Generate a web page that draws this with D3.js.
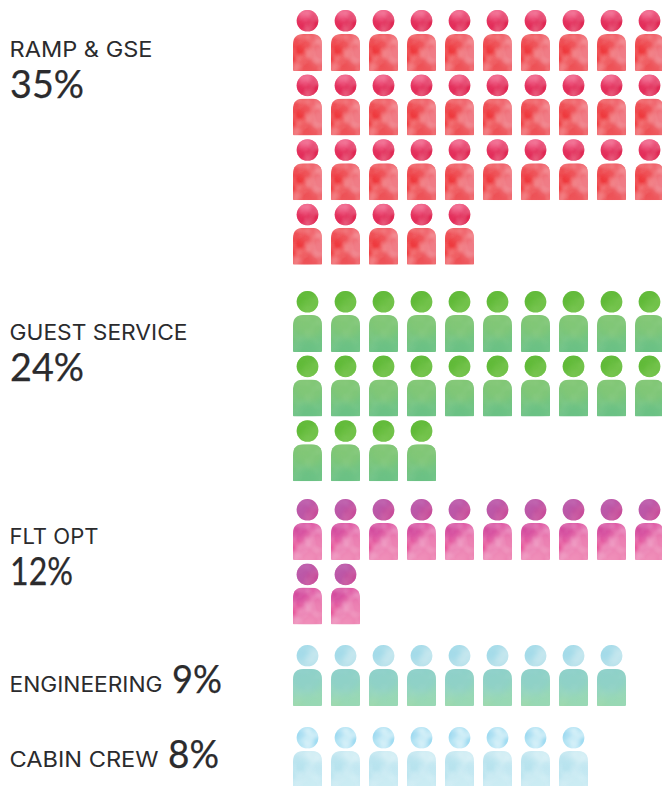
<!DOCTYPE html>
<html>
<head>
<meta charset="utf-8">
<script src="https://cdn.jsdelivr.net/npm/d3@7/dist/d3.min.js"></script>
<style>
  html, body { margin: 0; padding: 0; background: #fff; }
  svg { display: block; }
  text { font-family: Inter, "Noto Sans", sans-serif; font-optical-sizing: none; font-variation-settings: "opsz" 14; fill: #2b2b2d; }
  text.share { font-family: Lato, Inter, sans-serif; stroke: #2b2b2d; stroke-width: 0.25px; }
</style>
</head>
<body>
<svg id="chart" width="662" height="786"></svg>
<script>
// Workforce share by department; one figure stands for one percent.
const categories = ["RAMP & GSE", "GUEST SERVICE", "FLT OPT", "ENGINEERING", "CABIN CREW"];
const shares = [35, 24, 12, 9, 8];
const shareLabels = ["35%", "24%", "12%", "9%", "8%"];
const perRow = 10;

// Watercolour palette per department: [colour, x, y, radius, opacity]
const headColors = [
  { base: ["#ea3a68", "#e62f5c"], wash: [["#f2688f", .52, .12, .34, .7], ["#dc2450", .85, .72, .4, .6], ["#e02a55", .15, .8, .35, .5]] },
  { base: ["#68bd3e", "#6dc046"], wash: [["#5cb834", .35, .2, .4, .7], ["#74c44c", .7, .8, .4, .6]] },
  { base: ["#c156a6", "#c2509e"], wash: [["#b85cab", .3, .4, .42, .6], ["#cc4c98", .75, .8, .35, .6]] },
  { base: ["#aadcea", "#b4e0ea"], wash: [["#c8e8f0", .68, .5, .28, .7], ["#9cd8e8", .25, .2, .35, .6]] },
  { base: ["#a6dff2", "#b4e4f4"], wash: [["#d2eff7", .5, .45, .3, .8], ["#8ad2ee", .2, .28, .22, .6], ["#90d6f0", .85, .7, .2, .6]] }
];
const bodyColors = [
  { base: ["#ef5056", "#ee585e"], wash: [["#f08a94", .95, .55, .36, .75], ["#ef3136", .1, .55, .34, .85], ["#f2737e", .8, .08, .26, .6], ["#ee4c50", .45, .85, .25, .5]] },
  { base: ["#80c672", "#70c486"], wash: [["#86c874", .6, .2, .5, .6], ["#68c084", .4, .98, .42, .6]] },
  { base: ["#dc54a4", "#ec7cae"], wash: [["#cd4499", .2, .15, .3, .65], ["#e6408c", .06, .62, .2, .8], ["#ef8cb8", .8, .6, .4, .6], ["#f29ac0", .5, 1, .3, .6]] },
  { base: ["#90d2c8", "#98d8b4"], wash: [["#8ccfcc", .5, .2, .55, .6], ["#9cd8a8", .1, 1, .28, .6]] },
  { base: ["#c0e6f0", "#c4e8f2"], wash: [["#dcf2f7", .7, .1, .3, .7], ["#b2e1ed", .2, .5, .38, .6], ["#d0eef4", .6, .9, .4, .6]] }
];
// How much pigment mottling shows on each department's heads and bodies
const headMottle = [0.45, 0.08, 0.2, 0.2, 0.7];
const bodyMottle = [0.5, 0.1, 0.5, 0.08, 0.4];

// Layout
const width = 662, height = 786;
const groupTops = [10, 291, 499, 645, 727];
const rowStep = 64.6;
const labelBaselines = [57, 340, 544, 692, 767];
const valueBaselines = [98, 381, 585, 693, 768];
const bigValueX = [10, 10, 10, 172, 168];
const labelWidths = [143, 178, 89, 153, 149];
const valueWidths = [74, 74, 63, 50, 51];
const bodyW = 29, bodyH = 37, bodyTop = 24, headR = 10.8;

const svg = d3.select("#chart");
const defs = svg.append("defs");

function blurFilter(id, amount) {
  defs.append("filter").attr("id", id)
    .attr("x", "-50%").attr("y", "-50%").attr("width", "200%").attr("height", "200%")
    .append("feGaussianBlur").attr("stdDeviation", amount);
}
blurFilter("soft", 3.2);
blurFilter("soft-head", 2);

// Pigment mottling: fractal noise turned into patchy white alpha
const mottle = defs.append("filter").attr("id", "mottle")
  .attr("x", 0).attr("y", 0).attr("width", 1).attr("height", 1)
  .attr("color-interpolation-filters", "sRGB");
mottle.append("feTurbulence").attr("type", "fractalNoise")
  .attr("baseFrequency", 0.07).attr("numOctaves", 2).attr("seed", 7);
mottle.append("feColorMatrix").attr("type", "matrix")
  .attr("values", "0 0 0 0 1  0 0 0 0 1  0 0 0 0 1  1.5 0 0 0 -0.62");

// Body outline: shoulders rounded, base nearly square
const bodyPath = (() => {
  const p = d3.path(), r = 10.5, b = 1;
  p.moveTo(0, r);
  p.quadraticCurveTo(0, 0, r, 0);
  p.lineTo(bodyW - r, 0);
  p.quadraticCurveTo(bodyW, 0, bodyW, r);
  p.lineTo(bodyW, bodyH - b);
  p.quadraticCurveTo(bodyW, bodyH, bodyW - b, bodyH);
  p.lineTo(b, bodyH);
  p.quadraticCurveTo(0, bodyH, 0, bodyH - b);
  p.closePath();
  return p.toString();
})();

defs.append("clipPath").attr("id", "clip-body").append("path").attr("d", bodyPath);
defs.append("clipPath").attr("id", "clip-head").append("circle")
  .attr("cx", bodyW / 2).attr("cy", headR).attr("r", headR);

function paint(sel, clip, spec, id, x, y, w, h, blur, grain) {
  const grad = defs.append("linearGradient").attr("id", id)
    .attr("x1", 0).attr("y1", 0).attr("x2", 0.3).attr("y2", 1);
  grad.selectAll("stop").data(spec.base).join("stop")
    .attr("offset", (d, i) => i).attr("stop-color", d => d);
  const g = sel.append("g").attr("clip-path", `url(#${clip})`);
  g.append("rect").attr("x", x).attr("y", y).attr("width", w).attr("height", h).attr("fill", `url(#${id})`);
  g.append("g").attr("filter", `url(#${blur})`)
    .selectAll("circle").data(spec.wash).join("circle")
    .attr("cx", d => x + d[1] * w)
    .attr("cy", d => y + d[2] * h)
    .attr("r", d => d[3] * w)
    .attr("fill", d => d[0])
    .attr("opacity", d => d[4]);
  g.append("rect").attr("x", x).attr("y", y).attr("width", w).attr("height", h)
    .attr("filter", "url(#mottle)").attr("opacity", grain);
}

// One reusable figure per department
categories.forEach((name, i) => {
  const fig = defs.append("g").attr("id", `figure-${i}`);
  paint(fig, "clip-head", headColors[i], `head-grad-${i}`, 0, 0, bodyW, headR * 2, "soft-head", headMottle[i]);
  const body = fig.append("g").attr("transform", `translate(0,${bodyTop})`);
  paint(body, "clip-body", bodyColors[i], `body-grad-${i}`, 0, 0, bodyW, bodyH, "soft", bodyMottle[i]);
});

const x = d3.scaleLinear().domain([0, perRow - 1]).range([293, 635]);
const rowY = d3.scaleLinear().domain([0, 1]).range([0, rowStep]);

const groups = svg.selectAll("g.dept")
  .data(categories.map((name, i) => ({ name, i, share: shares[i], label: shareLabels[i] })))
  .join("g").attr("class", "dept");

groups.selectAll("use")
  .data(d => d3.range(d.share).map(n => ({ n, i: d.i })))
  .join("use")
  .attr("href", d => `#figure-${d.i}`)
  .attr("x", d => x(d.n % perRow))
  .attr("y", d => groupTops[d.i] + rowY(Math.floor(d.n / perRow)));

groups.append("text")
  .attr("x", 9.5)
  .attr("y", d => labelBaselines[d.i])
  .attr("font-size", 21.2)
  .attr("textLength", d => labelWidths[d.i])
  .attr("lengthAdjust", "spacingAndGlyphs")
  .text(d => d.name);

groups.append("text")
  .attr("class", "share")
  .attr("x", d => bigValueX[d.i])
  .attr("y", d => valueBaselines[d.i])
  .attr("font-size", 38.5)
  .attr("textLength", d => valueWidths[d.i])
  .attr("lengthAdjust", "spacingAndGlyphs")
  .text(d => d.label);
</script>
</body>
</html>
